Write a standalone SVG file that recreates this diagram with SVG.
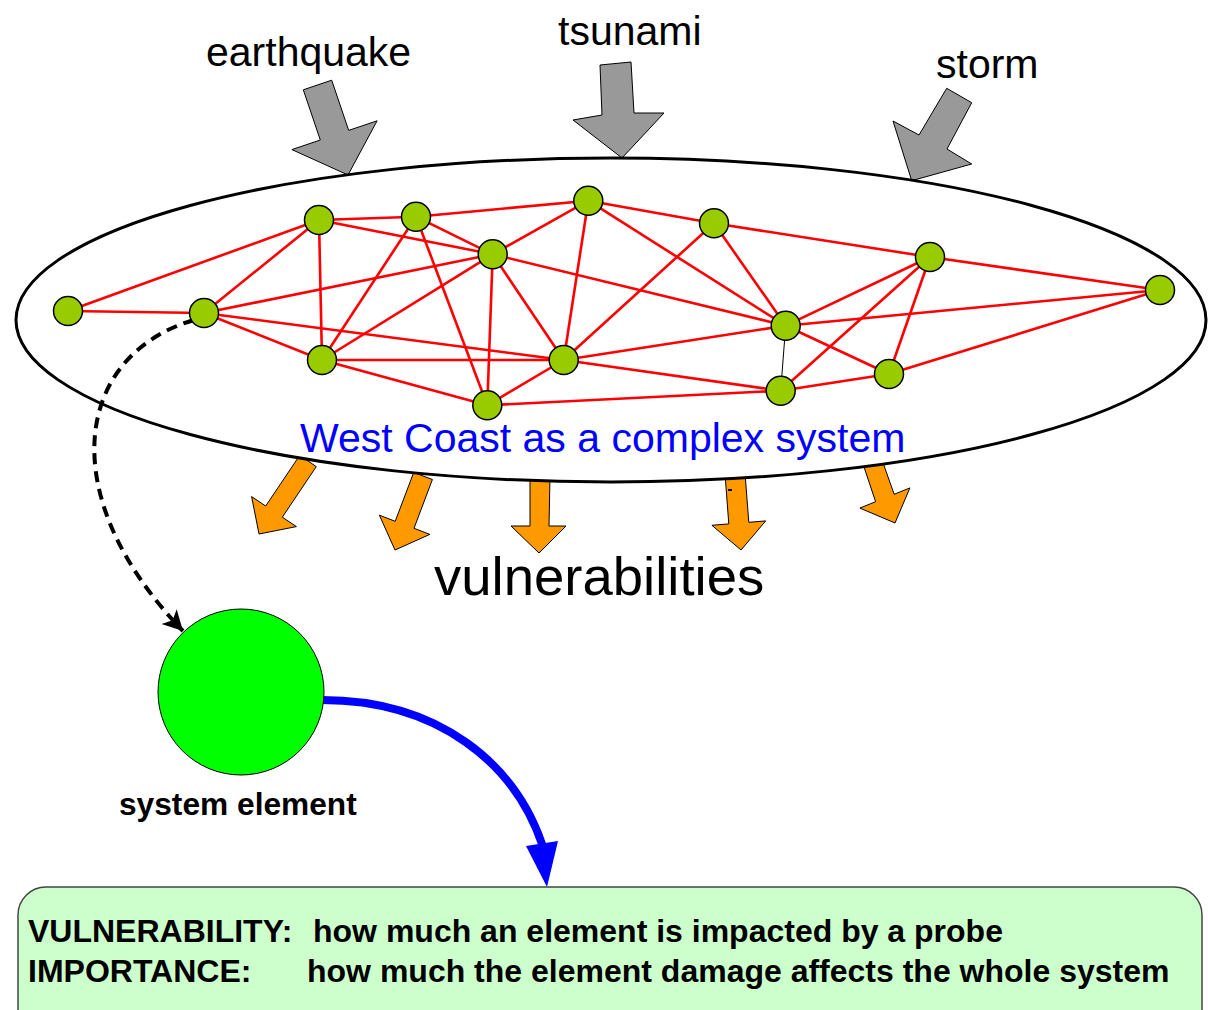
<svg xmlns="http://www.w3.org/2000/svg" width="1208" height="1010" viewBox="0 0 1208 1010">
<style>
.lbl{font-family:"Liberation Sans",Arial,sans-serif;font-size:41px;fill:#000}
.bold{font-family:"Liberation Sans",Arial,sans-serif;font-weight:bold;font-size:32px;fill:#000}
.gray{fill:#999999;stroke:#000;stroke-width:1}
.orange{fill:#ff9900;stroke:#000;stroke-width:1}
.edge{stroke:#ff0000;stroke-width:2.6;fill:none}
.node{fill:#99cc00;stroke:#000;stroke-width:1.5}
</style>
<defs>
<marker id="dashHead" markerUnits="userSpaceOnUse" markerWidth="24" markerHeight="24" refX="20" refY="11" orient="auto">
<path d="M0,0.5 L20,11 L0,21.5 L5,11 z" fill="#000"/>
</marker>
</defs>
<rect width="1208" height="1010" fill="#fff"/>
<g id="labels-top">
<text class="lbl" x="206" y="66">earthquake</text>
<text class="lbl" x="558" y="45">tsunami</text>
<text class="lbl" x="936" y="78">storm</text>
</g>
<g id="probe-arrows">
<polygon class="gray" points="303.3,89.8 331.7,80.2 348.7,130.4 377.1,120.8 348,175 291.9,149.6 320.3,140"/>
<polygon class="gray" points="600,65 631,62 634,113 664,113 622,158 573,120 602,115"/>
<polygon class="gray" points="946.7,88.3 971.7,102.7 947,149 971.7,164 911.7,180.7 893,121 919,135"/>
</g>
<g id="vulnerability-arrows">
<polygon class="orange" points="299.7,455.4 316.3,466.6 282.3,517.2 296.4,526.6 259,534 251.6,496.6 265.7,506"/>
<polygon class="orange" points="413.7,472.5 432.4,479.5 414,528.3 429.8,534.4 395,550 379.4,515.2 395.2,521.3"/>
<polygon class="orange" points="530,476 550,476 549,526 566,526 539,553 511,526 530,526"/>
<polygon class="orange" points="725,474 745,473 748.8,522.3 765.7,520.9 741,550 711.9,525.3 728.8,523.9"/>
<polygon class="orange" points="862.7,463 881.3,458 894.2,494.3 909.9,487.9 895,523 859.9,508.1 875.6,501.7"/>
<rect x="728" y="489" width="4" height="2" fill="#000"/>
</g>
<g id="system">
<ellipse cx="611" cy="320" rx="595" ry="162" fill="#fff" stroke="#000" stroke-width="3"/>
<text x="300" y="452" font-family="Liberation Sans, Arial, sans-serif" font-size="41" fill="#0000ff">West Coast as a complex system</text>
</g>
<g id="connectors">
<g class="edge">
<line x1="68" y1="311" x2="319" y2="220"/>
<line x1="68" y1="311" x2="204" y2="313"/>
<line x1="204" y1="313" x2="319" y2="220"/>
<line x1="204" y1="313" x2="492.7" y2="254.3"/>
<line x1="204" y1="313" x2="563.7" y2="360"/>
<line x1="204" y1="313" x2="322" y2="360"/>
<line x1="319" y1="220" x2="416" y2="216.7"/>
<line x1="319" y1="220" x2="492.7" y2="254.3"/>
<line x1="319" y1="220" x2="322" y2="360"/>
<line x1="416" y1="216.7" x2="492.7" y2="254.3"/>
<line x1="416" y1="216.7" x2="588.3" y2="200.7"/>
<line x1="416" y1="216.7" x2="322" y2="360"/>
<line x1="416" y1="216.7" x2="487.3" y2="405.3"/>
<line x1="492.7" y1="254.3" x2="588.3" y2="200.7"/>
<line x1="492.7" y1="254.3" x2="322" y2="360"/>
<line x1="492.7" y1="254.3" x2="487.3" y2="405.3"/>
<line x1="492.7" y1="254.3" x2="563.7" y2="360"/>
<line x1="492.7" y1="254.3" x2="785.7" y2="325.7"/>
<line x1="588.3" y1="200.7" x2="563.7" y2="360"/>
<line x1="588.3" y1="200.7" x2="785.7" y2="325.7"/>
<line x1="588.3" y1="200.7" x2="714" y2="223.3"/>
<line x1="714" y1="223.3" x2="563.7" y2="360"/>
<line x1="714" y1="223.3" x2="785.7" y2="325.7"/>
<line x1="714" y1="223.3" x2="930" y2="257"/>
<line x1="322" y1="360" x2="563.7" y2="360"/>
<line x1="322" y1="360" x2="487.3" y2="405.3"/>
<line x1="487.3" y1="405.3" x2="563.7" y2="360"/>
<line x1="487.3" y1="405.3" x2="780.7" y2="390.7"/>
<line x1="563.7" y1="360" x2="785.7" y2="325.7"/>
<line x1="563.7" y1="360" x2="780.7" y2="390.7"/>
<line x1="785.7" y1="325.7" x2="930" y2="257"/>
<line x1="785.7" y1="325.7" x2="889" y2="374"/>
<line x1="785.7" y1="325.7" x2="1160" y2="290"/>
<line x1="930" y1="257" x2="1160" y2="290"/>
<line x1="930" y1="257" x2="780.7" y2="390.7"/>
<line x1="930" y1="257" x2="889" y2="374"/>
<line x1="780.7" y1="390.7" x2="889" y2="374"/>
<line x1="889" y1="374" x2="1160" y2="290"/>
</g>
<line x1="785.7" y1="325.7" x2="780.7" y2="390.7" stroke="#000" stroke-width="1"/>
<path id="dashed-link" d="M194,320 C75,355 52,495 183,631" fill="none" stroke="#000" stroke-width="4" stroke-dasharray="11 7" marker-end="url(#dashHead)"/>
<g id="blue-link">
<path d="M322,700 C440,700 515,765 542,844" fill="none" stroke="#0000ff" stroke-width="8" stroke-linecap="round"/>
<polygon points="526,846 558,841 547,887" fill="#0000ff"/>
</g>
</g>
<g id="nodes">
<circle id="n1" class="node" cx="68" cy="311" r="14.5"/>
<circle id="n2" class="node" cx="204" cy="313" r="14.5"/>
<circle id="n3" class="node" cx="319" cy="220" r="14.5"/>
<circle id="n4" class="node" cx="416" cy="216.7" r="14.5"/>
<circle id="n5" class="node" cx="492.7" cy="254.3" r="14.5"/>
<circle id="n6" class="node" cx="588.3" cy="200.7" r="14.5"/>
<circle id="n7" class="node" cx="714" cy="223.3" r="14.5"/>
<circle id="n8" class="node" cx="785.7" cy="325.7" r="14.5"/>
<circle id="n9" class="node" cx="930" cy="257" r="14.5"/>
<circle id="n10" class="node" cx="1160" cy="290" r="14.5"/>
<circle id="n11" class="node" cx="322" cy="360" r="14.5"/>
<circle id="n12" class="node" cx="563.7" cy="360" r="14.5"/>
<circle id="n13" class="node" cx="487.3" cy="405.3" r="14.5"/>
<circle id="n14" class="node" cx="780.7" cy="390.7" r="14.5"/>
<circle id="n15" class="node" cx="889" cy="374" r="14.5"/>
</g>
<text x="434" y="595" font-family="Liberation Sans, Arial, sans-serif" font-size="54.5" fill="#000">vulnerabilities</text>
<g id="system-element">
<circle cx="241" cy="692" r="83" fill="#00ff00" stroke="#000" stroke-width="1"/>
<text class="bold" x="119" y="815" style="font-size:31.7px">system element</text>
</g>
<g id="definitions">
<rect x="18" y="887" width="1184" height="160" rx="28" ry="28" fill="#ccffcc" stroke="#444" stroke-width="1.5"/>
<text class="bold" x="28" y="941.5">VULNERABILITY:</text>
<text class="bold" x="313" y="941.5">how much an element is impacted by a probe</text>
<text class="bold" x="28" y="981.5">IMPORTANCE:</text>
<text class="bold" x="307" y="981.5">how much the element damage affects the whole system</text>
</g>
</svg>
